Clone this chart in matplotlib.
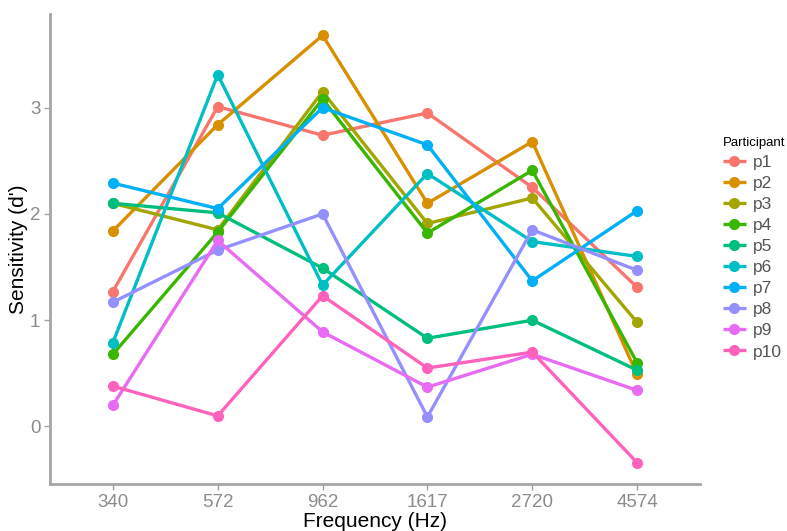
import matplotlib
matplotlib.use("Agg")
import matplotlib.pyplot as plt
import numpy as np

plt.rcParams['font.family'] = ['Liberation Sans', 'DejaVu Sans']

# frequencies on the x axis (treated as categories)
freqs = ["340", "572", "962", "1617", "2720", "4574"]

participants = ["p1", "p2", "p3", "p4", "p5", "p6", "p7", "p8", "p9", "p10"]

# sensitivity d' per participant
p1 = [1.27, 3.01, 2.74, 2.95, 2.25, 1.31]
p2 = [1.84, 2.84, 3.68, 2.10, 2.68, 0.49]
p3 = [2.10, 1.85, 3.15, 1.91, 2.15, 0.98]
p4 = [0.68, 1.83, 3.08, 1.82, 2.41, 0.60]
p5 = [2.10, 2.01, 1.49, 0.83, 1.00, 0.53]
p6 = [0.79, 3.31, 1.33, 2.38, 1.74, 1.60]
p7 = [2.29, 2.05, 3.00, 2.65, 1.37, 2.03]
p8 = [1.17, 1.66, 2.00, 0.09, 1.85, 1.47]
p9 = [0.20, 1.75, 0.89, 0.37, 0.68, 0.34]
p10 = [0.38, 0.10, 1.23, 0.55, 0.70, -0.34]
values = [p1, p2, p3, p4, p5, p6, p7, p8, p9, p10]

# ggplot default hue palette for 10 groups
colors = ["#F8766D", "#D89000", "#A3A500", "#39B600", "#00BF7D",
          "#00BFC4", "#00B0F6", "#9590FF", "#E76BF3", "#FF62BC"]

fig = plt.figure(figsize=(7.87, 5.31), dpi=100)
ax = fig.add_axes([50 / 787, (531 - 484) / 531, 650 / 787, 470 / 531])

x = np.arange(1, len(freqs) + 1)
for name, vals, col in zip(participants, values, colors):
    ax.plot(x, vals, color=col, lw=2.4, marker="o", ms=7,
            solid_capstyle="butt", label=name)

# ggplot-like expansion
ax.set_xlim(0.4, 6.6)
allv = np.concatenate([np.array(v) for v in values])
lo, hi = allv.min(), allv.max()
pad = 0.05 * (hi - lo)
ax.set_ylim(lo - pad, hi + pad)

ax.set_xticks(x)
ax.set_xticklabels(freqs)
ax.set_yticks([0, 1, 2, 3])

for side in ["top", "right"]:
    ax.spines[side].set_visible(False)
for side in ["left", "bottom"]:
    ax.spines[side].set_color("#a6a6a6")
    ax.spines[side].set_linewidth(2.0)

ax.tick_params(colors="#a0a0a0", labelsize=13.5, length=4, width=1.0, pad=3)
ax.tick_params(axis="both", labelcolor="#8c8c8c")

ax.set_xlabel("Frequency (Hz)", fontsize=15, labelpad=1)
ax.set_ylabel("Sensitivity (d')", fontsize=15, labelpad=1)

leg = fig.legend(loc="upper left", bbox_to_anchor=(716 / 787, 1 - 130 / 531),
                 frameon=False, title="Participant", fontsize=12.5,
                 title_fontsize=9.5, handlelength=1.3, handletextpad=0.45,
                 labelspacing=0.34, borderaxespad=0)
leg._legend_box.align = "left"
for t in leg.get_texts():
    t.set_color("#555555")

fig.savefig("out.png", dpi=100)
